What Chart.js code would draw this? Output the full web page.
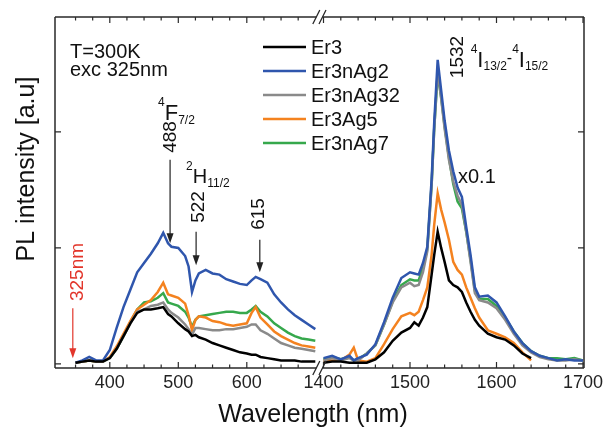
<!DOCTYPE html>
<html>
<head>
<meta charset="utf-8">
<title>PL spectra</title>
<script src="https://cdn.jsdelivr.net/npm/chart.js@4.4.0/dist/chart.umd.min.js"></script>
<style>
  html, body { margin: 0; padding: 0; background: #fff; }
</style>
</head>
<body>
<canvas id="chart" width="611" height="433"></canvas>
<script>
// visible part of the spectrum (nm)
const visWl = [350, 360, 370, 380, 390, 400, 410, 420, 430, 440,
               450, 460, 470, 478, 485, 490, 500, 510, 515, 520,
               525, 530, 540, 550, 560, 570, 580, 590, 600, 607,
               613, 620, 630, 640, 650, 660, 670, 680, 690, 700];
const visEr3 = [0.01, 0.02, 0.03, 0.02, 0.02, 0.05, 0.13, 0.24, 0.35, 0.44,
                0.47, 0.47, 0.48, 0.49, 0.43, 0.41, 0.35, 0.30, 0.28, 0.24,
                0.25, 0.23, 0.21, 0.18, 0.16, 0.14, 0.12, 0.10, 0.09, 0.08,
                0.08, 0.06, 0.05, 0.04, 0.03, 0.03, 0.03, 0.02, 0.02, 0.02];
const visAg2 = [0.01, 0.03, 0.06, 0.03, 0.03, 0.12, 0.31, 0.49, 0.64, 0.79,
                0.87, 0.95, 1.04, 1.13, 1.04, 1.01, 1.00, 0.93, 0.84, 0.62,
                0.72, 0.78, 0.81, 0.78, 0.77, 0.73, 0.71, 0.69, 0.68, 0.72,
                0.75, 0.73, 0.70, 0.60, 0.53, 0.47, 0.42, 0.38, 0.34, 0.30];
const visAg32 = [0.01, 0.02, 0.03, 0.02, 0.02, 0.05, 0.13, 0.24, 0.35, 0.45,
                 0.47, 0.50, 0.51, 0.53, 0.47, 0.44, 0.40, 0.34, 0.30, 0.25,
                 0.31, 0.31, 0.30, 0.29, 0.29, 0.30, 0.30, 0.31, 0.32, 0.34,
                 0.34, 0.29, 0.26, 0.22, 0.18, 0.16, 0.14, 0.13, 0.12, 0.11];
const visAg5 = [0.01, 0.02, 0.03, 0.02, 0.02, 0.06, 0.15, 0.26, 0.37, 0.47,
                0.51, 0.55, 0.62, 0.70, 0.60, 0.59, 0.57, 0.52, 0.42, 0.29,
                0.38, 0.41, 0.40, 0.37, 0.36, 0.34, 0.33, 0.34, 0.35, 0.44,
                0.49, 0.40, 0.34, 0.28, 0.24, 0.21, 0.18, 0.16, 0.15, 0.14];
const visAg7 = [0.01, 0.02, 0.03, 0.02, 0.02, 0.05, 0.13, 0.24, 0.36, 0.47,
                0.53, 0.54, 0.57, 0.61, 0.53, 0.52, 0.50, 0.45, 0.40, 0.32,
                0.38, 0.41, 0.42, 0.43, 0.44, 0.45, 0.45, 0.44, 0.44, 0.47,
                0.50, 0.45, 0.41, 0.35, 0.31, 0.27, 0.24, 0.22, 0.21, 0.20];

// infrared part (nm), shown x0.1
const irWl = [1400, 1410, 1420, 1430, 1435, 1440, 1450, 1460, 1470, 1480,
              1490, 1500, 1505, 1510, 1515, 1520, 1525, 1528, 1532, 1536,
              1540, 1545, 1550, 1555, 1560, 1565, 1570, 1575, 1580, 1590,
              1600, 1610, 1620, 1630, 1640, 1650, 1660, 1670, 1680, 1690, 1700];
const irEr3 = [0.01, 0.02, 0.02, 0.01, 0.01, 0.01, 0.01, 0.04, 0.10, 0.20,
               0.27, 0.31, 0.36, 0.33, 0.40, 0.49, 0.77, 0.94, 1.14, 1.00,
               0.88, 0.72, 0.68, 0.66, 0.62, 0.53, 0.45, 0.38, 0.33, 0.26,
               0.23, 0.21, 0.16, 0.09, 0.05, null, null, null, null, null, null];
const irAg2 = [0.05, 0.07, 0.04, 0.07, 0.03, 0.05, 0.08, 0.17, 0.36, 0.57,
               0.74, 0.79, 0.78, 0.77, 0.87, 1.01, 1.59, 2.08, 2.62, 2.36,
               2.10, 1.84, 1.66, 1.52, 1.44, 1.18, 0.94, 0.66, 0.58, 0.59,
               0.53, 0.41, 0.28, 0.18, 0.11, 0.07, 0.05, 0.03, 0.04, 0.03, 0.03];
const irAg32 = [0.03, 0.05, 0.03, 0.05, 0.03, 0.03, 0.09, 0.16, 0.34, 0.53,
                0.66, 0.70, 0.67, 0.68, 0.79, 0.97, 1.54, 2.02, 2.53, 2.29,
                2.03, 1.76, 1.57, 1.45, 1.37, 1.14, 0.88, 0.61, 0.55, 0.53,
                0.48, 0.38, 0.26, 0.16, 0.10, 0.06, 0.04, 0.03, 0.03, 0.04, 0.03];
const irAg5 = [0.03, 0.03, 0.03, 0.08, 0.14, 0.03, 0.02, 0.05, 0.17, 0.30,
               0.41, 0.44, 0.42, 0.45, 0.55, 0.66, 0.94, 1.20, 1.47, 1.33,
               1.22, 1.07, 0.88, 0.81, 0.77, 0.66, 0.57, 0.48, 0.40, 0.29,
               0.26, 0.23, 0.18, 0.10, 0.03, null, null, null, null, null, null];
const irAg7 = [0.04, 0.06, 0.04, 0.06, 0.03, 0.04, 0.09, 0.16, 0.34, 0.54,
               0.68, 0.73, 0.72, 0.72, 0.83, 0.99, 1.55, 2.03, 2.50, 2.30,
               2.05, 1.78, 1.55, 1.40, 1.34, 1.14, 0.90, 0.63, 0.56, 0.56,
               0.50, 0.40, 0.28, 0.18, 0.11, 0.07, 0.05, 0.05, 0.04, 0.05, 0.03];

const seriesNames = ['Er3', 'Er3nAg2', 'Er3nAg32', 'Er3Ag5', 'Er3nAg7'];
const seriesColors = ['#000000', '#2f56ad', '#8a8a8a', '#f4821f', '#36a84c'];
const visSeries = [visEr3, visAg2, visAg32, visAg5, visAg7];
const irSeries = [irEr3, irAg2, irAg32, irAg5, irAg7];

// axis ticks
const tickWl = [400, 500, 600, 1400, 1500, 1600, 1700];
const minorWl = [350, 375, 425, 450, 475, 525, 550, 575, 625, 650, 675,
                 1420, 1440, 1460, 1480, 1520, 1540, 1560, 1580, 1620, 1640, 1660, 1680];
const yTicks = [0, 1, 2];

const FONT = '"Liberation Sans", Arial, sans-serif';

// broken axis: two linear pieces put side by side
function tx(w) {
    if (w <= 1000) return (w - 320) * 0.685;
    return 268.5 + (w - 1400) * 0.865;
}

const datasets = seriesNames.map((name, i) => {
    const pts = visWl.map((w, k) => ({ x: tx(w), y: visSeries[i][k] }));
    pts.push({ x: (tx(700) + tx(1400)) / 2, y: null });
    irWl.forEach((w, k) => pts.push({ x: tx(w), y: irSeries[i][k] }));
    return {
        label: name,
        data: pts,
        borderColor: seriesColors[i],
        backgroundColor: seriesColors[i],
        borderWidth: 2.5,
        pointRadius: 0,
        tension: 0,
        fill: false
    };
});

function sub(ctx, parts, x, y) {
    // parts: [text, size, dy]
    parts.forEach(p => {
        ctx.font = p[1] + 'px ' + FONT;
        ctx.fillText(p[0], x, y + p[2]);
        x += ctx.measureText(p[0]).width;
    });
}

function vtext(ctx, s, x, y, size, color) {
    ctx.save();
    ctx.translate(x, y);
    ctx.rotate(-Math.PI / 2);
    ctx.font = size + 'px ' + FONT;
    ctx.fillStyle = color;
    ctx.textAlign = 'center';
    ctx.textBaseline = 'middle';
    ctx.fillText(s, 0, 0);
    ctx.restore();
}

function arrow(ctx, x, y1, y2, color) {
    ctx.strokeStyle = color;
    ctx.fillStyle = color;
    ctx.lineWidth = 1.2;
    ctx.beginPath();
    ctx.moveTo(x, y1);
    ctx.lineTo(x, y2 - 8);
    ctx.stroke();
    ctx.beginPath();
    ctx.moveTo(x, y2);
    ctx.lineTo(x - 3.5, y2 - 10);
    ctx.lineTo(x + 3.5, y2 - 10);
    ctx.closePath();
    ctx.fill();
}

const decor = {
    id: 'decor',
    afterDatasetsDraw(chart) {
        const ctx = chart.ctx;
        const a = chart.chartArea;
        const xs = chart.scales.x, ys = chart.scales.y;
        const X = w => xs.getPixelForValue(tx(w));
        const Y = v => ys.getPixelForValue(v);
        ctx.save();

        // frame with the axis break
        const bl = X(700) + 1, br = X(1400) - 1;
        ctx.strokeStyle = '#2a2a2a';
        ctx.lineWidth = 1.5;
        ctx.beginPath();
        ctx.moveTo(a.left, a.top); ctx.lineTo(a.left, a.bottom);
        ctx.moveTo(a.right, a.top); ctx.lineTo(a.right, a.bottom);
        [a.top, a.bottom].forEach(y => {
            ctx.moveTo(a.left, y); ctx.lineTo(bl, y);
            ctx.moveTo(br, y); ctx.lineTo(a.right, y);
        });
        ctx.stroke();
        ctx.lineWidth = 1.3;
        ctx.beginPath();
        [a.top, a.bottom].forEach(y => [bl, br].forEach(x => {
            ctx.moveTo(x - 3.5, y + 7); ctx.lineTo(x + 3.5, y - 7);
        }));
        ctx.stroke();

        // inward ticks
        ctx.lineWidth = 1.2;
        ctx.beginPath();
        tickWl.forEach(w => {
            const x = X(w);
            ctx.moveTo(x, a.bottom); ctx.lineTo(x, a.bottom - 6);
            ctx.moveTo(x, a.top); ctx.lineTo(x, a.top + 6);
        });
        minorWl.forEach(w => {
            const x = X(w);
            ctx.moveTo(x, a.bottom); ctx.lineTo(x, a.bottom - 3.5);
            ctx.moveTo(x, a.top); ctx.lineTo(x, a.top + 3.5);
        });
        yTicks.forEach(v => {
            const y = Y(v);
            ctx.moveTo(a.left, y); ctx.lineTo(a.left + 6, y);
            ctx.moveTo(a.right, y); ctx.lineTo(a.right - 6, y);
        });
        ctx.stroke();

        // axis titles
        ctx.fillStyle = '#111';
        ctx.font = '25px ' + FONT;
        ctx.textAlign = 'center';
        ctx.textBaseline = 'middle';
        ctx.fillText('Wavelength (nm)', 313, 415);
        vtext(ctx, 'PL intensity [a.u]', 27, 169, 25, '#111');

        // legend
        ctx.textAlign = 'left';
        chart.data.datasets.forEach((d, i) => {
            const y = 47 + i * 24;
            ctx.strokeStyle = d.borderColor;
            ctx.lineWidth = 2.5;
            ctx.beginPath();
            ctx.moveTo(263, y); ctx.lineTo(306, y);
            ctx.stroke();
            ctx.fillStyle = '#111';
            ctx.font = '20px ' + FONT;
            ctx.textBaseline = 'middle';
            ctx.fillText(d.label, 311, y + 1);
        });

        // text notes
        ctx.fillStyle = '#111';
        ctx.textBaseline = 'alphabetic';
        ctx.font = '20px ' + FONT;
        ctx.fillText('T=300K', 70, 58);
        ctx.fillText('exc 325nm', 70, 76);
        ctx.fillText('x0.1', 458, 183);

        // arrows at the visible bands
        const x488 = X(488), x522 = X(526), x615 = X(619), x325 = X(346);
        arrow(ctx, x488, Y(1.76), Y(1.04), '#222');
        arrow(ctx, x522, Y(1.14), Y(0.85), '#222');
        arrow(ctx, x615, Y(1.07), Y(0.79), '#222');
        arrow(ctx, x325, Y(0.48), Y(0.05), '#e2362b');

        vtext(ctx, '488', x488 + 1, 137, 19, '#111');
        vtext(ctx, '522', x522 + 3, 207, 19, '#111');
        vtext(ctx, '615', x615 - 1, 214, 19, '#111');
        vtext(ctx, '325nm', x325 + 5, 272, 19, '#e2362b');
        vtext(ctx, '1532', X(1532) + 20, 57, 19, '#111');

        ctx.fillStyle = '#111';
        ctx.textAlign = 'left';
        sub(ctx, [['4', 12, -14], ['F', 22, 0], ['7/2', 12, 4]], x488 - 12, 120);
        sub(ctx, [['2', 12, -13], ['H', 20, 0], ['11/2', 12, 4]], x488 + 16, 183);
        sub(ctx, [['4', 12, -14], ['I', 22, 0], ['13/2', 12, 3], ['-', 16, -4],
                  ['4', 12, -14], ['I', 22, 0], ['15/2', 12, 3]], X(1532) + 33, 67);

        ctx.restore();
    }
};

new Chart(document.getElementById('chart'), {
    type: 'line',
    data: { datasets: datasets },
    options: {
        responsive: false,
        animation: false,
        layout: { padding: { top: 17, right: 27, left: 0, bottom: 0 } },
        plugins: { legend: { display: false }, tooltip: { enabled: false } },
        scales: {
            x: {
                type: 'linear',
                min: 0,
                max: 529,
                grid: { display: false, drawTicks: false },
                border: { display: false },
                afterFit: s => { s.height = 65; },
                afterBuildTicks: s => { s.ticks = tickWl.map(w => ({ value: tx(w) })); },
                ticks: {
                    autoSkip: false,
                    maxRotation: 0,
                    padding: 4,
                    color: '#222',
                    font: { size: 18, family: FONT },
                    callback: (v, i) => String(tickWl[i])
                }
            },
            y: {
                min: -0.035,
                max: 2.99,
                grid: { display: false, drawTicks: false },
                border: { display: false },
                ticks: { display: false },
                afterFit: s => { s.width = 55; }
            }
        }
    },
    plugins: [decor]
});
</script>
</body>
</html>
